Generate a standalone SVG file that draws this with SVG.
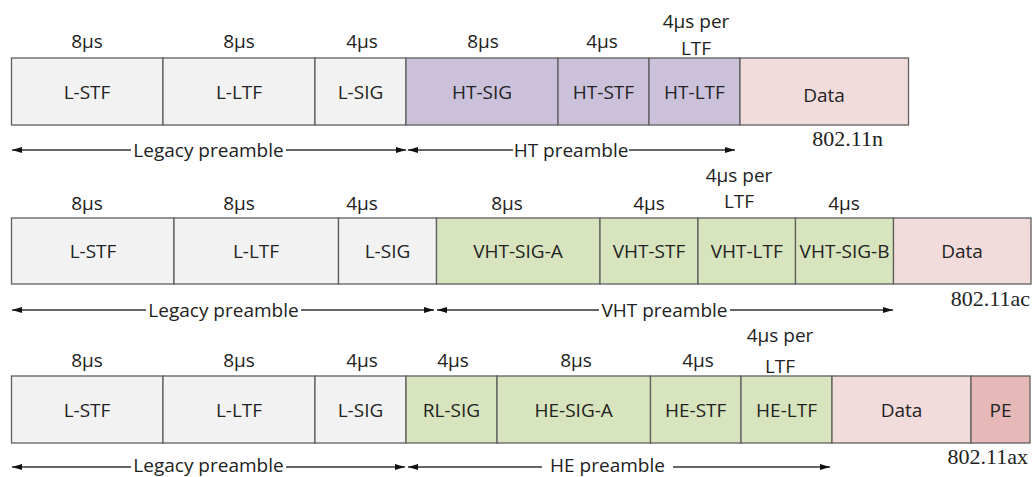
<svg xmlns="http://www.w3.org/2000/svg" width="1033" height="477" viewBox="0 0 1033 477">
<style>
.b{stroke:#5f5f5f;stroke-width:1.3}
.g{fill:#f2f2f2}.p{fill:#ccc1da}.v{fill:#d7e4bd}.d{fill:#f2dcdb}.e{fill:#e6b9b8}
text{font-family:"Open Sans","Noto Sans",sans-serif;font-size:19px;fill:#222;text-anchor:middle}
.s{font-family:"Liberation Serif","Times New Roman",serif;font-size:22px;text-anchor:end}
.a{stroke:#333;stroke-width:1.3;fill:none}
</style>
<defs>
<marker id="ah" viewBox="0 0 10 6" refX="10" refY="3" markerWidth="10" markerHeight="6" markerUnits="userSpaceOnUse" orient="auto-start-reverse"><path d="M0,0 L10,3 L0,6 z" fill="#111"/></marker>
</defs>

<!-- Row 1: 802.11n -->
<g id="r1-lstf"><rect class="b g" x="11.5" y="58" width="151.5" height="67"/><text x="87" y="48">8μs</text><text x="87" y="99">L-STF</text></g>
<g id="r1-lltf"><rect class="b g" x="163" y="58" width="152" height="67"/><text x="239" y="48">8μs</text><text x="239" y="99">L-LTF</text></g>
<g id="r1-lsig"><rect class="b g" x="315" y="58" width="91" height="67"/><text x="362" y="48">4μs</text><text x="360.5" y="99">L-SIG</text></g>
<g id="r1-htsig"><rect class="b p" x="406" y="58" width="152" height="67"/><text x="483" y="48">8μs</text><text x="482" y="99">HT-SIG</text></g>
<g id="r1-htstf"><rect class="b p" x="558" y="58" width="91" height="67"/><text x="602" y="48">4μs</text><text x="603.5" y="99">HT-STF</text></g>
<g id="r1-htltf"><rect class="b p" x="649" y="58" width="91" height="67"/><text x="696" y="28">4μs per</text><text x="696" y="55">LTF</text><text x="694.5" y="99">HT-LTF</text></g>
<g id="r1-data"><rect class="b d" x="740" y="58" width="168.5" height="67"/><text x="824" y="102">Data</text></g>
<text class="s" x="883" y="146">802.11n</text>

<!-- Row 2: 802.11ac -->
<g id="r2-lstf"><rect class="b g" x="11.5" y="218" width="162.5" height="66"/><text x="87" y="210">8μs</text><text x="93" y="258">L-STF</text></g>
<g id="r2-lltf"><rect class="b g" x="174" y="218" width="164.5" height="66"/><text x="239" y="210">8μs</text><text x="256" y="258">L-LTF</text></g>
<g id="r2-lsig"><rect class="b g" x="338.5" y="218" width="98" height="66"/><text x="362" y="210">4μs</text><text x="387.5" y="258">L-SIG</text></g>
<g id="r2-vhtsiga"><rect class="b v" x="436.5" y="218" width="163.5" height="66"/><text x="507" y="210">8μs</text><text x="518" y="258">VHT-SIG-A</text></g>
<g id="r2-vhtstf"><rect class="b v" x="600" y="218" width="98" height="66"/><text x="649" y="210">4μs</text><text x="649" y="258">VHT-STF</text></g>
<g id="r2-vhtltf"><rect class="b v" x="698" y="218" width="97.5" height="66"/><text x="739" y="182">4μs per</text><text x="739" y="208">LTF</text><text x="746.7" y="258">VHT-LTF</text></g>
<g id="r2-vhtsigb"><rect class="b v" x="795.5" y="218" width="98" height="66"/><text x="844" y="210">4μs</text><text x="844.5" y="258">VHT-SIG-B</text></g>
<g id="r2-data"><rect class="b d" x="893.5" y="218" width="137.5" height="66"/><text x="962" y="258">Data</text></g>
<text class="s" x="1030" y="306">802.11ac</text>

<!-- Row 3: 802.11ax -->
<g id="r3-lstf"><rect class="b g" x="11.5" y="376" width="151.5" height="67"/><text x="87" y="367">8μs</text><text x="87" y="417">L-STF</text></g>
<g id="r3-lltf"><rect class="b g" x="163" y="376" width="152" height="67"/><text x="239" y="367">8μs</text><text x="239" y="417">L-LTF</text></g>
<g id="r3-lsig"><rect class="b g" x="315" y="376" width="91" height="67"/><text x="362" y="367">4μs</text><text x="360.5" y="417">L-SIG</text></g>
<g id="r3-rlsig"><rect class="b v" x="406" y="376" width="91" height="67"/><text x="453" y="367">4μs</text><text x="451.5" y="417">RL-SIG</text></g>
<g id="r3-hesiga"><rect class="b v" x="497" y="376" width="153.5" height="67"/><text x="576" y="367">8μs</text><text x="573.7" y="417">HE-SIG-A</text></g>
<g id="r3-hestf"><rect class="b v" x="650.5" y="376" width="90.5" height="67"/><text x="698" y="367">4μs</text><text x="695.7" y="417">HE-STF</text></g>
<g id="r3-heltf"><rect class="b v" x="741" y="376" width="91" height="67"/><text x="780" y="342">4μs per</text><text x="780" y="373">LTF</text><text x="786.5" y="417">HE-LTF</text></g>
<g id="r3-data"><rect class="b d" x="832" y="376" width="139" height="67"/><text x="901.5" y="417">Data</text></g>
<g id="r3-pe"><rect class="b e" x="971" y="376" width="59" height="67"/><text x="1000.5" y="417">PE</text></g>
<text class="s" x="1028" y="464">802.11ax</text>

<!-- Connectors -->
<g id="connectors">
<line class="a" x1="12" y1="150" x2="131" y2="150" marker-start="url(#ah)"/>
<line class="a" x1="286" y1="150" x2="406" y2="150" marker-end="url(#ah)"/>
<line class="a" x1="408" y1="150" x2="513" y2="150" marker-start="url(#ah)"/>
<line class="a" x1="629" y1="150" x2="735" y2="150" marker-end="url(#ah)"/>

<line class="a" x1="12" y1="310" x2="146" y2="310" marker-start="url(#ah)"/>
<line class="a" x1="301" y1="310" x2="434" y2="310" marker-end="url(#ah)"/>
<line class="a" x1="437" y1="310" x2="599" y2="310" marker-start="url(#ah)"/>
<line class="a" x1="730" y1="310" x2="893" y2="310" marker-end="url(#ah)"/>

<line class="a" x1="12" y1="467" x2="131" y2="467" marker-start="url(#ah)"/>
<line class="a" x1="286" y1="467" x2="405" y2="467" marker-end="url(#ah)"/>
<line class="a" x1="408" y1="467" x2="542" y2="467" marker-start="url(#ah)"/>
<line class="a" x1="673" y1="467" x2="830" y2="467" marker-end="url(#ah)"/>
</g>
<text x="208.5" y="472">Legacy preamble</text>
<text x="571" y="157">HT preamble</text>
<text x="223.5" y="317">Legacy preamble</text>
<text x="664.5" y="317">VHT preamble</text>
<text x="208.5" y="157">Legacy preamble</text>
<text x="607.5" y="472">HE preamble</text>
</svg>
